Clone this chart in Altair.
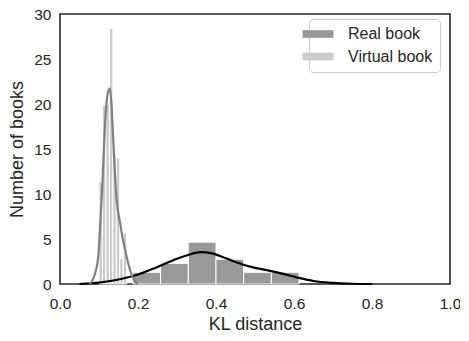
import altair as alt
import pandas as pd

# Histogram bins (density)
real_start = [0.187, 0.258, 0.329, 0.400, 0.471, 0.542]
real_end = [0.258, 0.329, 0.400, 0.471, 0.542, 0.613]
real_height = [1.3, 2.3, 4.65, 2.75, 1.3, 1.3]

virt_start = [0.1000, 0.1089, 0.1178, 0.1267, 0.1356, 0.1444, 0.1533, 0.1622]
virt_end = [0.1089, 0.1178, 0.1267, 0.1356, 0.1444, 0.1533, 0.1622, 0.1711]
virt_height = [11.4, 19.9, 20.0, 28.4, 14.3, 14.0, 2.8, 5.7]

# KDE curves
real_kde_x = [0.05, 0.10, 0.15, 0.20, 0.25, 0.30, 0.33, 0.36, 0.39, 0.42, 0.45,
              0.49, 0.53, 0.57, 0.61, 0.65, 0.70, 0.75, 0.80]
real_kde_y = [0.0, 0.15, 0.5, 1.05, 1.9, 2.8, 3.25, 3.55, 3.4, 2.95, 2.45,
              1.9, 1.55, 1.15, 0.7, 0.33, 0.12, 0.03, 0.0]

virt_kde_x = [0.075, 0.082, 0.090, 0.098, 0.103, 0.108, 0.113, 0.118, 0.123, 0.128,
              0.132, 0.136, 0.140, 0.144, 0.149, 0.154, 0.160, 0.166, 0.171, 0.180,
              0.188, 0.196, 0.200]
virt_kde_y = [0.0, 0.3, 1.2, 3.0, 6.5, 10.4, 15.5, 19.5, 21.3, 21.7,
              20.0, 16.5, 13.0, 10.0, 8.0, 6.8, 5.2, 4.0, 3.0, 1.5,
              0.6, 0.1, 0.0]

series = ["Real book", "Virtual book"]
colors = ["#999999", "#cccccc"]

bars = pd.DataFrame({
    "start": real_start + virt_start,
    "end": real_end + virt_end,
    "height": real_height + virt_height,
    "series": ["Real book"] * len(real_start) + ["Virtual book"] * len(virt_start),
    "order": [0] * len(real_start) + [1] * len(virt_start),
})
real_kde = pd.DataFrame({"x": real_kde_x, "y": real_kde_y})
virt_kde = pd.DataFrame({"x": virt_kde_x, "y": virt_kde_y})

xscale = alt.Scale(domain=[0, 1], nice=False, zero=False)
yscale = alt.Scale(domain=[0, 30], nice=False)

xaxis = alt.Axis(title="KL distance", values=[0, 0.2, 0.4, 0.6, 0.8, 1.0], format=".1f",
                 grid=False, ticks=False, domain=False, labelPadding=12,
                 labelFlush=False, labelOverlap=False)
yaxis = alt.Axis(title="Number of books", values=[0, 5, 10, 15, 20, 25, 30],
                 grid=False, ticks=False, domain=False, labelPadding=9,
                 labelFlush=False, labelOverlap=False, titlePadding=7)

rect = alt.Chart(bars).mark_rect(stroke="white", strokeWidth=1, opacity=1).encode(
    x=alt.X("start:Q", scale=xscale, axis=xaxis),
    x2="end:Q",
    y=alt.Y("height:Q", scale=yscale, axis=yaxis),
    y2=alt.datum(0),
    color=alt.Color("series:N", scale=alt.Scale(domain=series, range=colors),
                    legend=alt.Legend(title=None, orient="none", legendX=249, legendY=5,
                                      symbolType="M-2,-0.5L2,-0.5L2,0.5L-2,0.5Z",
                                      symbolSize=240, symbolStrokeWidth=0, symbolOpacity=1,
                                      symbolOffset=-6,
                                      labelFontSize=16, labelOffset=22, rowPadding=6.5,
                                      padding=7, strokeColor="#cccccc", cornerRadius=4,
                                      fillColor="white", labelColor="#262626")),
    order="order:Q",
)

line_real = alt.Chart(real_kde).mark_line(color="black", strokeWidth=2.2, interpolate="monotone").encode(
    x=alt.X("x:Q", scale=xscale), y=alt.Y("y:Q", scale=yscale))
line_virt = alt.Chart(virt_kde).mark_line(color="#808080", strokeWidth=2.2, interpolate="monotone").encode(
    x=alt.X("x:Q", scale=xscale), y=alt.Y("y:Q", scale=yscale))

chart = alt.layer(rect, line_real, line_virt).properties(
    width=390, height=270,
    autosize=alt.AutoSizeParams(type="none"),
    padding={"left": 52, "top": 6, "right": 10, "bottom": 57},
).configure_view(stroke="#262626", strokeWidth=1.6).configure_axis(
    labelFontSize=15.5, titleFontSize=18, labelFont="Liberation Sans", titleFont="Liberation Sans",
    labelColor="#262626", titleColor="#262626", titleFontWeight="normal",
).configure_legend(labelFont="Liberation Sans")

chart.save("out.html", embed_options={"renderer": "svg", "actions": False})
